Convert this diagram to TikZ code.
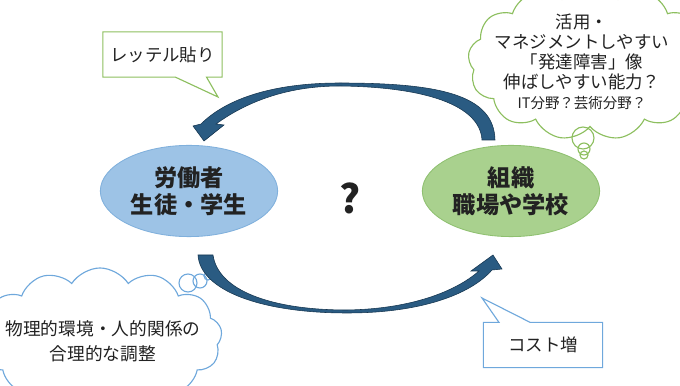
\documentclass[tikz,border=0pt]{standalone}
\usepackage{fontspec}
\setmainfont{Noto Sans CJK JP}
\usetikzlibrary{shapes.geometric,shapes.symbols,shapes.callouts,positioning}
\definecolor{workerfill}{HTML}{9DC3E6}
\definecolor{workerline}{HTML}{80B0DC}
\definecolor{orgfill}{HTML}{A9D18E}
\definecolor{orgline}{HTML}{8FC070}
\definecolor{greenline}{HTML}{8DBF5F}
\definecolor{blueline}{HTML}{6FA8DC}
\definecolor{arrowfill}{HTML}{2A5B82}
\definecolor{arrowline}{HTML}{163650}
\definecolor{ink}{HTML}{222222}
\newcommand{\bodyfont}{\fontsize{12.4}{14.2}\selectfont}
\tikzset{
  party/.style={ellipse, draw=#1line, fill=#1fill, line width=0.6pt,
    minimum width=4.35cm, minimum height=2.28cm, align=center, text=ink,
    font=\fontsize{16.5}{19.2}\selectfont\bfseries},
  tagbox/.style={rectangle callout, draw=#1, fill=white, line width=0.8pt,
    minimum width=2.98cm, minimum height=1.13cm, font=\bodyfont, text=ink,
    callout pointer width=0.78cm},
  thought/.style={cloud, draw=#1, fill=white, line width=0.8pt,
    cloud puffs=13, cloud puff arc=115, cloud ignores aspect, inner sep=0pt},
  bubble/.style={circle, draw=#1, line width=0.8pt, inner sep=0pt},
  cloudtext/.style={align=center, text=ink, font=\bodyfont},
  fatarrow/.style={fill=arrowfill, draw=arrowline, line width=0.4pt}
}
\begin{document}
\begin{tikzpicture}[x=0.025cm, y=-0.025cm]
  \useasboundingbox (0,0) rectangle (680,386);
  \clip (0,0) rectangle (680,386);
  % thought clouds
  \node[thought=greenline, minimum width=6.1cm, minimum height=3.9cm] (usecloud) at (590,62) {};
  \node[bubble=greenline, minimum size=0.55cm] (useb1) at (583,138) {};
  \node[bubble=greenline, minimum size=0.3cm] (useb2) at (584,149) {};
  \node[bubble=greenline, minimum size=0.2cm] (useb3) at (584,155) {};
  \node[cloudtext] (usetext) at (582,62)
    {活用・\\マネジメントしやすい\\「発達障害」像\\伸ばしやすい能力？\\{\fontsize{10.3}{14}\selectfont IT分野？芸術分野？}};
  \node[thought=blueline, minimum width=6.1cm, minimum height=3.5cm] (adjcloud) at (100,338) {};
  \node[bubble=blueline, minimum size=0.45cm] (adjb1) at (188,283) {};
  \node[bubble=blueline, minimum size=0.35cm] (adjb2) at (200,281) {};
  \node[bubble=blueline, minimum size=0.2cm] (adjb3) at (208,276) {};
  \node[cloudtext, font=\fontsize{12.6}{17.8}\selectfont] (adjtext) at (103,341)
    {物理的環境・人的関係の\\合理的な調整};
  % main ellipses
  \node[party=worker] (worker) at (189,191) {労働者\\生徒・学生};
  \node[party=org] (org) at (511,191) {組織\\職場や学校};
  \node[text=ink, font=\fontsize{28}{30}\selectfont\bfseries] (ask) at (350,198) {?};
  % callouts
  \coordinate (labeltip) at (218,97);
  \node[tagbox=greenline, callout absolute pointer=(labeltip)] (label) at (162.5,54.5) {レッテル貼り};
  \coordinate (costtip) at (482,298);
  \node[tagbox=blueline, callout absolute pointer=(costtip)] (cost) at (543,345) {コスト増};
  % curved arrows
  \filldraw[fatarrow] (495,140) .. controls (494,95) and (440,83) .. (340,83)
    .. controls (270,83) and (225,100) .. (201,124) -- (193,126) -- (204,141)
    -- (224,125) -- (216,124) .. controls (245,103) and (285,86) .. (340,86)
    .. controls (425,87) and (480,105) .. (482,140) -- cycle;
  \filldraw[fatarrow] (198,255) .. controls (200,290) and (260,313) .. (347,313)
    .. controls (420,313) and (470,295) .. (492,270) -- (502,269) -- (493,255)
    -- (471,271) -- (479,271) .. controls (455,292) and (410,309) .. (347,310)
    .. controls (270,310) and (218,290) .. (213,255) -- cycle;
\end{tikzpicture}
\end{document}
